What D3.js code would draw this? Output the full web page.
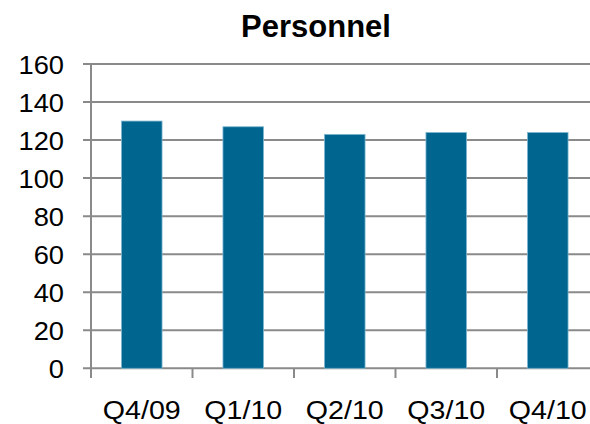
<!DOCTYPE html>
<html><head><meta charset="utf-8">
<script src="https://cdn.jsdelivr.net/npm/d3@7"></script>
<style>body{margin:0;background:#fff}svg{display:block}</style>
</head><body>
<script>
const categories = ["Q4/09","Q1/10","Q2/10","Q3/10","Q4/10"];
const values = [130,127,123,124,124];
const yTicks = [0,20,40,60,80,100,120,140,160];
const title = "Personnel";

const W=590,H=424;
const svg=d3.select("body").append("svg").attr("width",W).attr("height",H);
const x=d3.scaleBand().domain(categories).range([91,598.5]).paddingInner(0.6).paddingOuter(0.3);
const xb=d3.scaleBand().domain(categories).range([91,598.5]);
const y=d3.scaleLinear().domain([0,160]).range([368.3,64]);
const grid="#8a8a8a";
const font="Liberation Sans, Arial, sans-serif";

// gridlines
svg.append("g").selectAll("line").data(yTicks).join("line")
 .attr("x1",83).attr("x2",W).attr("y1",d=>y(d)).attr("y2",d=>y(d))
 .attr("stroke",grid).attr("stroke-width",2);
// y axis line
svg.append("line").attr("x1",91).attr("x2",91).attr("y1",y(160)).attr("y2",378)
 .attr("stroke",grid).attr("stroke-width",2);
// x ticks
svg.append("g").selectAll("line").data(categories).join("line")
 .attr("x1",d=>xb(d)).attr("x2",d=>xb(d)).attr("y1",y(0)).attr("y2",378)
 .attr("stroke",grid).attr("stroke-width",2);
// bars
svg.append("g").selectAll("rect").data(values).join("rect")
 .attr("x",(d,i)=>x(categories[i])).attr("width",x.bandwidth())
 .attr("y",d=>y(d)).attr("height",d=>y(0)-y(d))
 .attr("fill","#00668f").attr("stroke","#7fb8d0").attr("stroke-width",0.8);
// y labels
svg.append("g").selectAll("text").data(yTicks).join("text")
 .attr("transform",d=>`translate(64,${y(d)+9.5}) scale(1.05,1)`)
 .attr("text-anchor","end").attr("font-family",font).attr("font-size",26)
 .attr("fill","#000").text(d=>d);
// x labels
svg.append("g").selectAll("text").data(categories).join("text")
 .attr("transform",d=>`translate(${xb(d)+xb.bandwidth()/2},419) scale(1.1,1)`)
 .attr("text-anchor","middle").attr("font-family",font).attr("font-size",26)
 .attr("fill","#000").text(d=>d);
// title
svg.append("text").attr("x",316).attr("y",37).attr("text-anchor","middle")
 .attr("font-family",font).attr("font-size",31).attr("font-weight","bold").text(title);
</script>
</body></html>
